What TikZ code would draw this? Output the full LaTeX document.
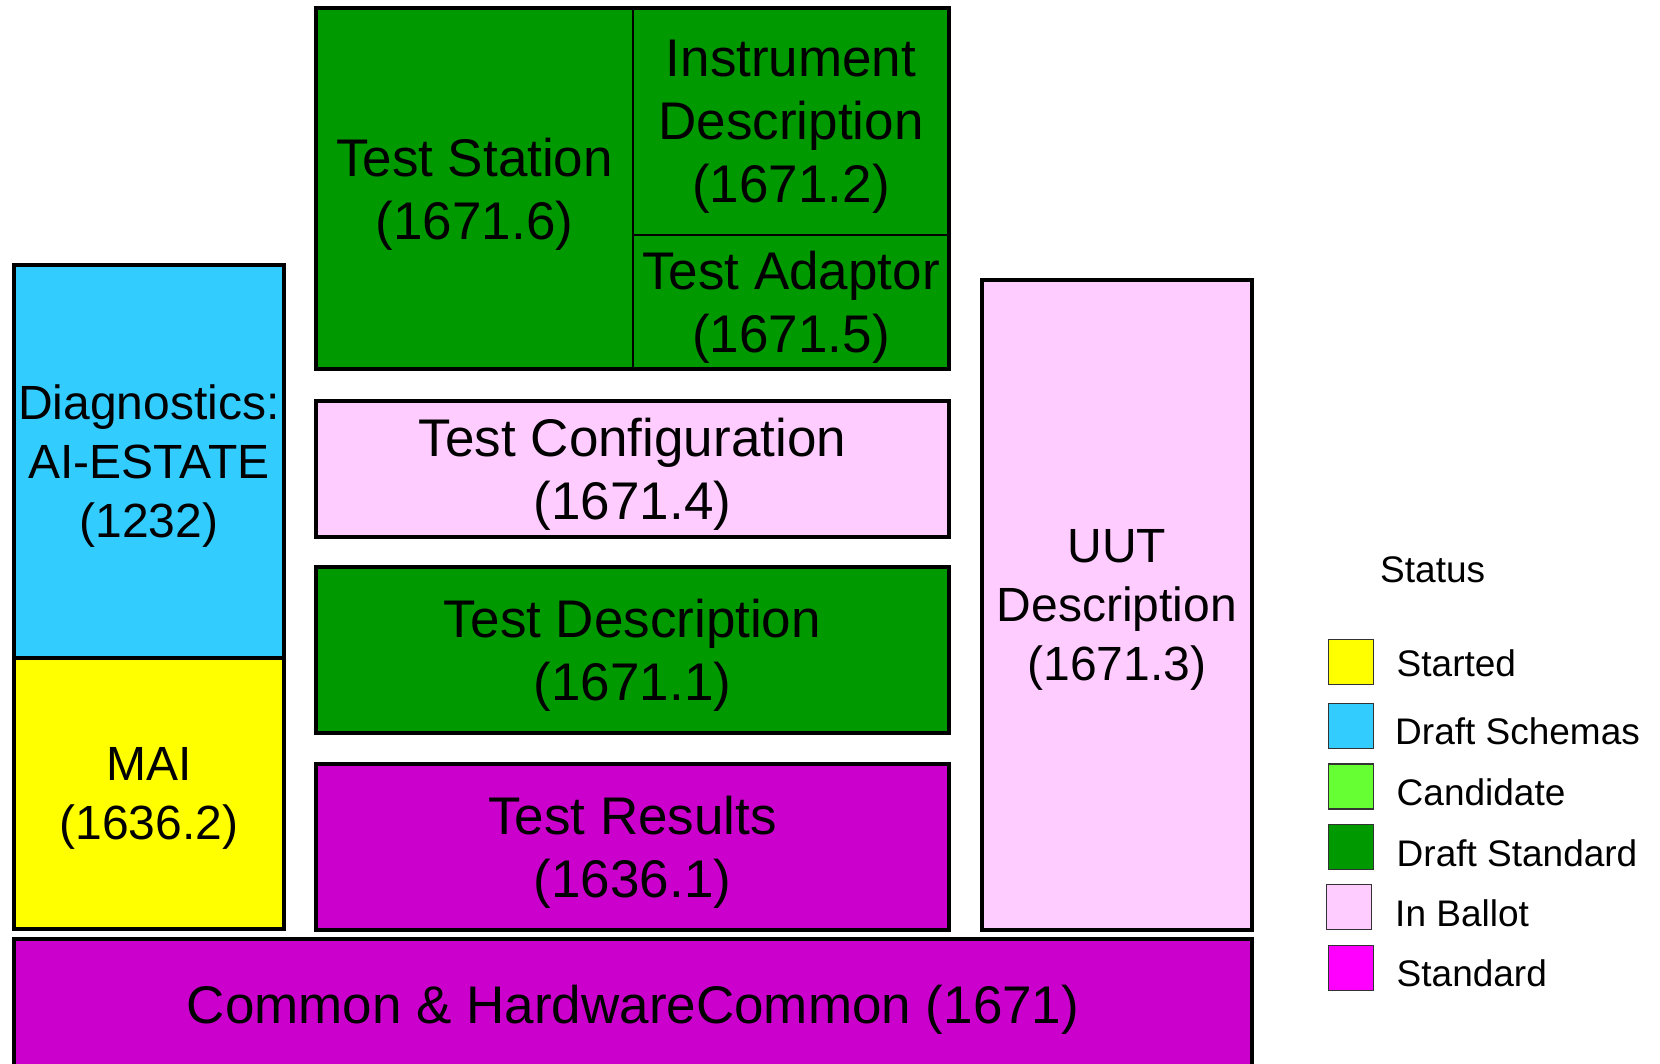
\documentclass[tikz,border=0pt]{standalone}
\usepackage{fontspec}
\setmainfont{Liberation Sans}
\usepackage{xcolor}
\usepackage{tikz}
\definecolor{draftstd}{HTML}{009900}
\definecolor{inballot}{HTML}{FFCCFF}
\definecolor{stdmagenta}{HTML}{CC00CC}
\definecolor{schemas}{HTML}{33CCFF}
\definecolor{started}{HTML}{FFFF00}
\definecolor{candidate}{HTML}{66FF33}
\definecolor{standard}{HTML}{FF00FF}

\newcommand{\boxfont}{\fontsize{53}{63}\selectfont}
\newcommand{\sideboxfont}{\fontsize{48}{59}\selectfont}
\newcommand{\legendfont}{\fontsize{37}{44}\selectfont}

\tikzset{
  block/.style={draw=black, line width=4.5pt, inner sep=0pt, outer sep=0pt, align=center, text depth=0pt, font=\boxfont},
  cell/.style={draw=black, line width=2.5pt, inner sep=0pt, outer sep=0pt, align=center, text depth=0pt, font=\boxfont},
  swatch/.style={draw=black!80, line width=1.5pt, minimum size=45pt, inner sep=0pt},
  legendtext/.style={anchor=base west, inner sep=0pt, font=\legendfont}
}

\begin{document}
\begin{tikzpicture}[x=1pt, y=-1pt]
        \useasboundingbox (0,0) rectangle (1660,1063);
        \clip (0,0) rectangle (1660,1063);
        % Base comun
        \node[block, fill=stdmagenta, minimum width=1238pt, minimum height=131pt] (common) at (633,1004.5)
            {Common \& HardwareCommon (1671)};
        % Columna izquierda
        \node[block, fill=schemas, font=\sideboxfont, minimum width=270pt, minimum height=393pt] (diag) at (149,461.5)
            {Diagnostics:\\AI-ESTATE\\(1232)};
        \node[block, fill=started, font=\sideboxfont, minimum width=270pt, minimum height=271pt] (mai) at (149,793.5)
            {MAI\\(1636.2)};
        % Grupo de la estacion
        \node[cell, fill=draftstd, minimum width=317pt, minimum height=361pt] (station) at (474.5,188.5)
            {Test Station\\(1671.6)};
        \node[cell, fill=draftstd, minimum width=316pt, minimum height=227pt] (instr) at (791,121.5)
            {Instrument\\Description\\(1671.2)};
        \node[cell, fill=draftstd, minimum width=316pt, minimum height=134pt] (adaptor) at (791,302)
            {Test Adaptor\\(1671.5)};
        \draw[line width=4.5pt] (station.north west) rectangle (adaptor.south east);
        % Columna central
        \node[block, fill=inballot, minimum width=633pt, minimum height=136pt] (config) at (632.5,469)
            {Test Configuration\\(1671.4)};
        \node[block, fill=draftstd, minimum width=633pt, minimum height=166pt] (testdesc) at (632.5,650)
            {Test Description\\(1671.1)};
        \node[block, fill=stdmagenta, minimum width=633pt, minimum height=166pt] (results) at (632.5,847)
            {Test Results\\(1636.1)};
        % Columna derecha
        \node[block, fill=inballot, font=\sideboxfont, minimum width=270pt, minimum height=650pt] (uut) at (1117,605)
            {UUT\\Description\\(1671.3)};
        % Leyenda
        \node[legendtext] (status) at (1380,582.7) {Status};
        \node[swatch, fill=started] (sstarted) at (1351,662) {};
        \node[swatch, fill=schemas] (sschemas) at (1351,726) {};
        \node[swatch, fill=candidate] (scandidate) at (1351,786.5) {};
        \node[swatch, fill=draftstd] (sdraftstd) at (1351,847) {};
        \node[swatch, fill=inballot] (sballot) at (1349,907) {};
        \node[swatch, fill=standard] (sstandard) at (1351,968) {};
        \node[legendtext] (lstarted) at (1396.5,676.7) {Started};
        \node[legendtext] (lschemas) at (1395,744) {Draft Schemas};
        \node[legendtext] (lcandidate) at (1396.5,805) {Candidate};
        \node[legendtext] (ldraftstd) at (1396.5,866) {Draft Standard};
        \node[legendtext] (lballot) at (1395,926.7) {In Ballot};
        \node[legendtext] (lstandard) at (1396.5,986.7) {Standard};
    \end{tikzpicture}
\end{document}
